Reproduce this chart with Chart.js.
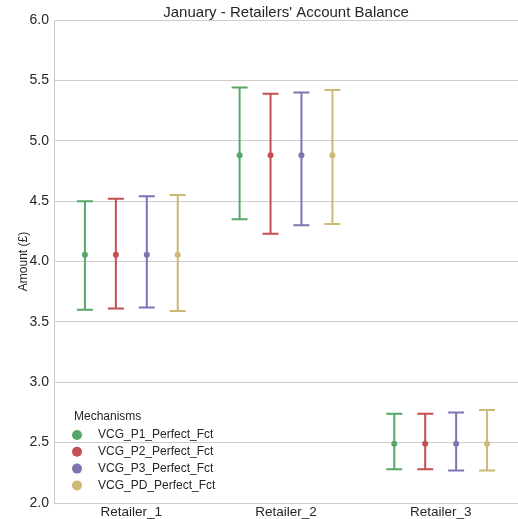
<!DOCTYPE html>
<html>
<head>
<meta charset="utf-8">
<script src="https://cdn.jsdelivr.net/npm/chart.js@4/dist/chart.umd.min.js"></script>
<style>
  body { margin: 0; background: #fff; }
  canvas { display: block; }
</style>
</head>
<body>
<canvas id="chart" width="518" height="519"></canvas>
<script>
// data
const categories = ['Retailer_1', 'Retailer_2', 'Retailer_3'];
const mechanisms = ['VCG_P1_Perfect_Fct', 'VCG_P2_Perfect_Fct', 'VCG_P3_Perfect_Fct', 'VCG_PD_Perfect_Fct'];

const p1Mean = [4.055, 4.88, 2.49];
const p1Low  = [3.60, 4.35, 2.28];
const p1High = [4.50, 5.44, 2.74];

const p2Mean = [4.055, 4.88, 2.49];
const p2Low  = [3.61, 4.23, 2.28];
const p2High = [4.52, 5.39, 2.74];

const p3Mean = [4.055, 4.88, 2.49];
const p3Low  = [3.62, 4.30, 2.27];
const p3High = [4.54, 5.40, 2.75];

const pdMean = [4.055, 4.88, 2.49];
const pdLow  = [3.59, 4.31, 2.27];
const pdHigh = [4.55, 5.42, 2.77];

const yTicks = [2.0, 2.5, 3.0, 3.5, 4.0, 4.5, 5.0, 5.5, 6.0];

const titleText = "January - Retailers' Account Balance";
const colors = ['#55A868', '#C44E52', '#8172B2', '#CCB974'];
const FONT = "'Liberation Sans', Arial, sans-serif";
const TEXT = '#262626';

const means = [p1Mean, p2Mean, p3Mean, pdMean];
const lows = [p1Low, p2Low, p3Low, pdLow];
const highs = [p1High, p2High, p3High, pdHigh];

// seaborn-like dodge: 4 hues spread over 0.8 of a category
function dodge(s) {
    return -0.3 + s * 0.2;
}

const datasets = mechanisms.map((name, s) => ({
    label: name,
    data: means[s].map((v, i) => ({ x: i + dodge(s), y: v })),
    low: lows[s],
    high: highs[s],
    backgroundColor: colors[s],
    borderColor: colors[s],
    pointRadius: 3,
    pointHoverRadius: 3,
    borderWidth: 0,
    showLine: false
}));

const errorBars = {
    id: 'errorBars',
    beforeDatasetsDraw(chart) {
        const ctx = chart.ctx;
        const xs = chart.scales.x, ys = chart.scales.y;
        ctx.save();
        chart.data.datasets.forEach(ds => {
            ctx.strokeStyle = ds.borderColor;
            ctx.lineWidth = 2;
            ds.data.forEach((p, i) => {
                const px = xs.getPixelForValue(p.x);
                const y0 = ys.getPixelForValue(ds.low[i]);
                const y1 = ys.getPixelForValue(ds.high[i]);
                const cap = 8;
                ctx.beginPath();
                ctx.moveTo(px, y0); ctx.lineTo(px, y1);
                ctx.moveTo(px - cap, y0); ctx.lineTo(px + cap, y0);
                ctx.moveTo(px - cap, y1); ctx.lineTo(px + cap, y1);
                ctx.stroke();
            });
        });
        ctx.restore();
    }
};

// title centred over the plot area, legend inside lower-left corner
const extras = {
    id: 'extras',
    afterDraw(chart) {
        const ctx = chart.ctx;
        const area = chart.chartArea;
        ctx.save();
        ctx.fillStyle = TEXT;
        ctx.textBaseline = 'middle';
        ctx.textAlign = 'center';
        ctx.font = '15px ' + FONT;
        ctx.fillText(titleText, (area.left + area.right) / 2, 13);

        ctx.textAlign = 'left';
        ctx.font = '12px ' + FONT;
        ctx.fillText('Mechanisms', 74, 417);
        chart.data.datasets.forEach((ds, k) => {
            const y = 435 + k * 16.8;
            ctx.fillStyle = ds.backgroundColor;
            ctx.beginPath();
            ctx.arc(77, y, 5, 0, Math.PI * 2);
            ctx.fill();
            ctx.fillStyle = TEXT;
            ctx.fillText(ds.label, 98, y);
        });
        ctx.restore();
    }
};

new Chart(document.getElementById('chart').getContext('2d'), {
    type: 'scatter',
    data: { datasets: datasets },
    plugins: [errorBars, extras],
    options: {
        responsive: false,
        animation: false,
        devicePixelRatio: 1,
        layout: { autoPadding: false, padding: { left: 0, right: 0, top: 20, bottom: 0 } },
        plugins: {
            legend: { display: false },
            tooltip: { enabled: false },
            title: { display: false }
        },
        scales: {
            x: {
                type: 'linear',
                min: -0.5,
                max: 2.5,
                afterBuildTicks: scale => {
                    scale.ticks = categories.map((c, i) => ({ value: i }));
                },
                afterFit: scale => { scale.height = 16; },
                ticks: {
                    callback: v => categories[v],
                    color: TEXT,
                    font: { family: FONT, size: 13.5 },
                    padding: 1,
                    maxRotation: 0
                },
                grid: { display: false, drawTicks: false },
                border: { display: true, color: '#cccccc', width: 1 }
            },
            y: {
                min: 2,
                max: 6,
                afterBuildTicks: scale => {
                    scale.ticks = yTicks.map(v => ({ value: v }));
                },
                afterFit: scale => { scale.width = 54; },
                ticks: {
                    callback: v => v.toFixed(1),
                    color: TEXT,
                    font: { family: FONT, size: 14 },
                    padding: 5
                },
                grid: { color: '#cccccc', lineWidth: 1, drawTicks: false },
                border: { display: true, color: '#cccccc', width: 1 },
                title: {
                    display: true,
                    text: 'Amount (£)',
                    color: TEXT,
                    font: { family: FONT, size: 12 },
                    padding: { top: 16, bottom: 0 }
                }
            }
        }
    }
});
</script>
</body>
</html>
